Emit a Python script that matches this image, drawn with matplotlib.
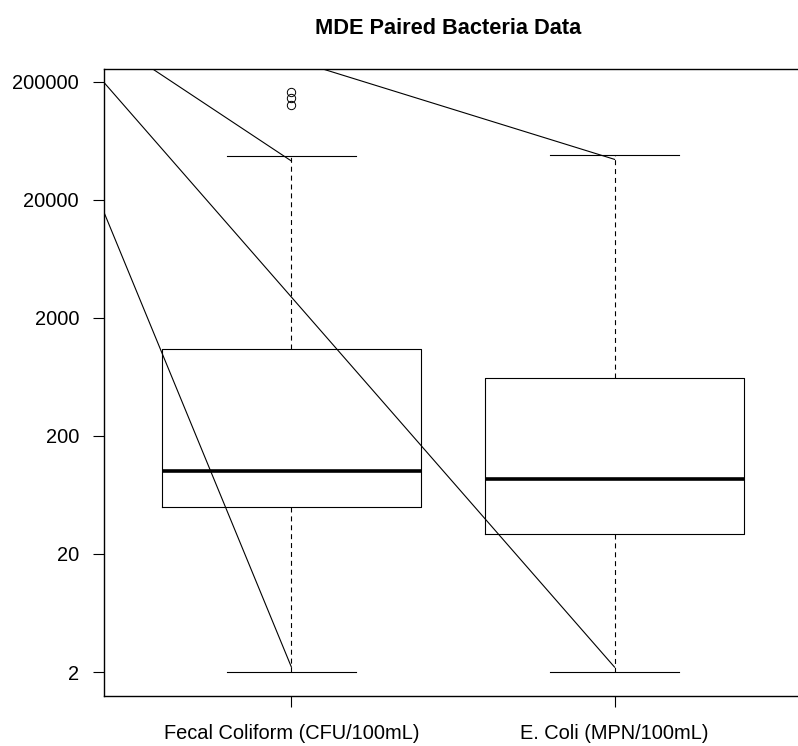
import numpy as np
import matplotlib
matplotlib.use("Agg")
from matplotlib import pyplot as plt

plt.rcParams['font.family'] = ['Liberation Sans', 'DejaVu Sans']

# box summary values (log scale)
labels = ["Fecal Coliform (CFU/100mL)", "E. Coli (MPN/100mL)"]
whislo = [2, 2]
q1 = [50, 29.5]
med = [100, 86]
q3 = [1100, 620]
whishi = [47000, 48000]
fliers = [[163000, 145000, 127000], []]

# the stray straight lines across the plot: (x0, y0) -> (x1, y1)
seg_x0 = [0.418, 0.418, 0.5706, 1.097]
seg_y0 = [16150, 200000, 256400, 256400]
seg_x1 = [1.0, 2.0, 1.0, 2.0]
seg_y1 = [2.2, 2.2, 42600, 44000]

yticks = [2, 20, 200, 2000, 20000, 200000]

W, H = 798, 746
fig = plt.figure(figsize=(W / 100, H / 100), dpi=100)
ax = fig.add_axes([104 / W, (H - 696) / H, (802 - 104) / W, (696 - 69) / H])

stats = []
for i in range(len(labels)):
    stats.append(dict(label=labels[i], whislo=whislo[i], q1=q1[i], med=med[i],
                      q3=q3[i], whishi=whishi[i], fliers=fliers[i]))

lw = 0.8
ax.bxp(stats, positions=[1, 2], widths=0.8, capwidths=0.4,
       boxprops=dict(color='black', lw=lw),
       whiskerprops=dict(color='black', lw=lw, linestyle=(0, (4.5, 3.5))),
       capprops=dict(color='black', lw=lw),
       medianprops=dict(color='black', lw=2.6, solid_capstyle='butt'),
       flierprops=dict(marker='o', markerfacecolor='none', markeredgecolor='black',
                       markersize=6, markeredgewidth=0.7))

for i in range(len(seg_x0)):
    ax.plot([seg_x0[i], seg_x1[i]], [seg_y0[i], seg_y1[i]], color='black', lw=lw)

ax.set_yscale('log')
ax.set_ylim(1.253, 256400)
ax.set_xlim(0.42, 2.58)
ax.minorticks_off()
ax.set_yticks(yticks)
ax.set_yticklabels([str(v) for v in yticks], fontsize=14.4)
ax.set_xticks([1, 2])
ax.set_xticklabels(labels, fontsize=14.4)
ax.tick_params(axis='y', length=8, width=0.8, pad=10)
ax.tick_params(axis='x', length=8, width=0.8, pad=12)
for s in ax.spines.values():
    s.set_linewidth(1.0)

fig.text(448.5 / W, 1 - 28 / H, "MDE Paired Bacteria Data", ha='center', va='center',
         fontsize=15.7, fontweight='bold')

fig.savefig("out.png", dpi=100)
